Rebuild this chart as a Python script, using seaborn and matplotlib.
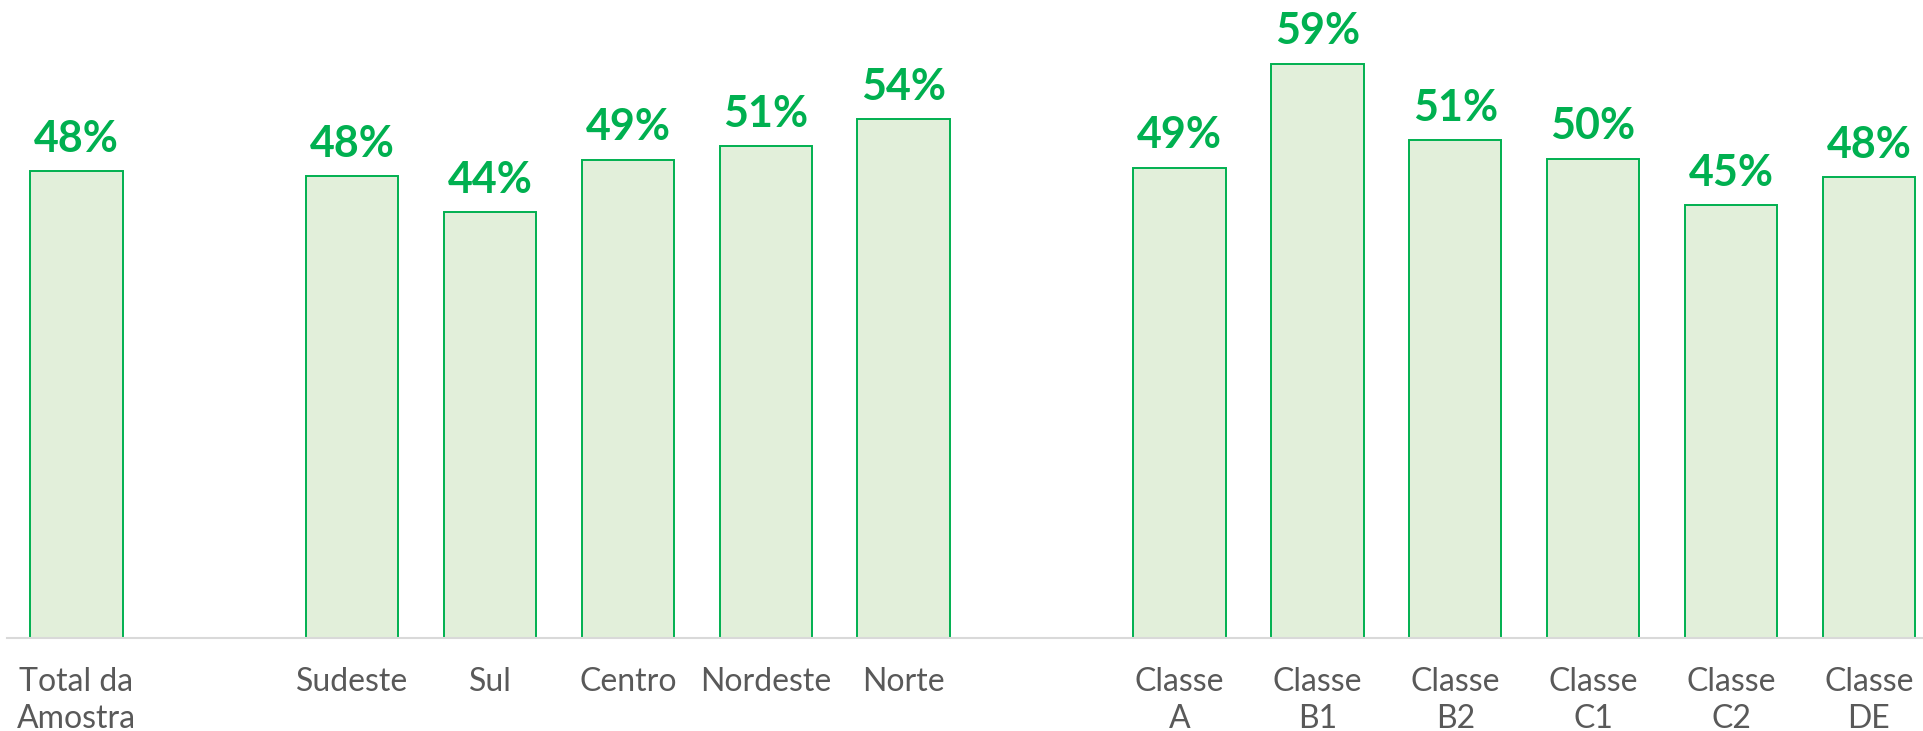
import matplotlib
matplotlib.use('Agg')
import matplotlib.pyplot as plt
import seaborn as sns
import pandas as pd

# categories shown on the x axis (two blank slots separate the groups)
categories = ['Total da\nAmostra', 'Sudeste', 'Sul', 'Centro', 'Nordeste', 'Norte',
              'Classe\nA', 'Classe\nB1', 'Classe\nB2', 'Classe\nC1', 'Classe\nC2', 'Classe\nDE']
values = [48.1, 47.6, 43.9, 49.3, 50.7, 53.5, 48.5, 59.2, 51.3, 49.4, 44.6, 47.5]
value_labels = ['48%', '48%', '44%', '49%', '51%', '54%', '49%', '59%', '51%', '50%', '45%', '48%']
slot_order = ['Total da\nAmostra', ' ', 'Sudeste', 'Sul', 'Centro', 'Nordeste', 'Norte', '  ',
              'Classe\nA', 'Classe\nB1', 'Classe\nB2', 'Classe\nC1', 'Classe\nC2', 'Classe\nDE']

green = '#00B050'
fill = '#E2EFDA'
grey_text = '#595959'

sns.set_theme(style='white')
plt.rcParams['font.family'] = ['Lato', 'DejaVu Sans']

df = pd.DataFrame({'grupo': categories, 'valor': values})

fig = plt.figure(figsize=(19.24, 7.31), dpi=100)
ax = fig.add_axes([0, 0.1272, 1, 0.8728])

sns.barplot(data=df, x='grupo', y='valor', order=slot_order, color=fill,
            saturation=1, width=0.67, edgecolor=green, linewidth=1.4, ax=ax)

# percentage labels above each bar
for cat, val, lab in zip(categories, values, value_labels):
    xpos = slot_order.index(cat)
    ax.annotate(lab, (xpos, val), xytext=(0, 14), textcoords='offset points',
                ha='center', va='baseline', fontsize=31, fontweight='bold', color=green)

ax.set_xlim(-0.554, 13.40)
ax.set_ylim(0, 65.77)
ax.set_xlabel('')
ax.set_ylabel('')
ax.set_yticks([])
ax.tick_params(axis='x', length=0, pad=21, labelsize=23, labelcolor=grey_text)
for lbl in ax.get_xticklabels():
    lbl.set_linespacing(1.3)

for s in ['top', 'right', 'left']:
    ax.spines[s].set_visible(False)
ax.spines['bottom'].set_color('#D9D9D9')
ax.spines['bottom'].set_linewidth(1.5)
ax.spines['bottom'].set_bounds(-0.5, 13.40)

fig.savefig('out.png', dpi=100)
